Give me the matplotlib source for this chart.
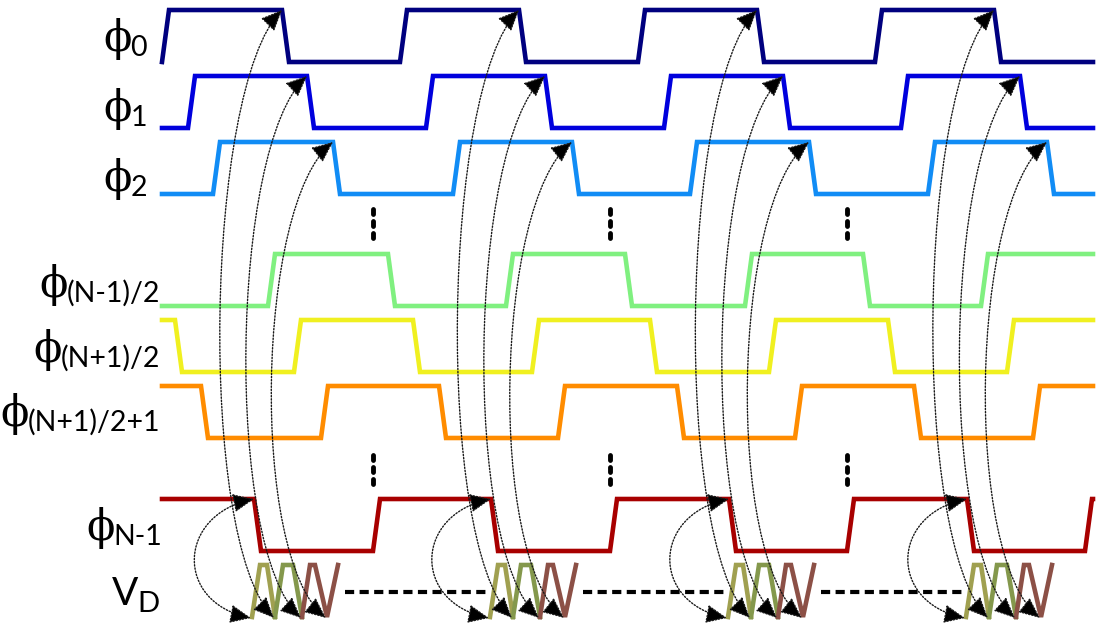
import matplotlib
matplotlib.use("Agg")
import matplotlib.pyplot as plt
from matplotlib.patches import FancyArrowPatch
from matplotlib.path import Path

# ---------------------------------------------------------------------------
# data (x in px where each edge starts)
# ---------------------------------------------------------------------------
x_start, x_end = 162, 1093
slew = 7

phase_names = ["0", "1", "2", "(N-1)/2", "(N+1)/2", "(N+1)/2+1", "N-1"]
phase_init_high = [False, False, False, False, True, True, True]
phase_edges = [
    [162, 282, 400, 519, 638, 757, 875, 994],
    [188, 307, 426, 545, 664, 783, 901, 1020],
    [213, 333, 453, 572, 690, 809, 928, 1047],
    [268, 388, 506, 625, 745, 863, 981],
    [175, 294, 413, 532, 650, 769, 888, 1007],
    [201, 321, 439, 558, 677, 795, 914, 1033],
    [254, 373, 491, 610, 729, 847, 967, 1085],
]
phase_colors = ["#00007F", "#0000DD", "#118CF5", "#80F080",
                "#F0F020", "#FF8C00", "#A80000"]

# V_D bursts: start of each burst, shape inside one burst
burst_x = [252, 490, 728, 966]
burst_dx = [0, 8, 15, 23, 31, 41, 50, 58, 63, 75, 86]
burst_lvl = [0, 1, 1, 0, 1, 1, 0, 1, 1, 0, 1]
burst_split = [0, 3, 6, 10]
burst_colors = ["#A0A050", "#84984C", "#8C5046"]

# which phase's falling edge points at which low point of the burst
arrow_src = [6, 0, 1, 2]
arrow_dst = [0, 3, 6, 9]

gap_x = [373, 610, 847]

# ---------------------------------------------------------------------------
# layout
# ---------------------------------------------------------------------------
row_high = [10, 76, 142, 254, 320, 386, 499]
amp = 52
vd_high, vd_low, vd_dash = 565, 617, 592
dots_y = [[211, 223, 235], [457, 469, 481]]
sub_base = [56, 126, 196, 302, 367, 431, 545]
label_right = [147, 147, 147, 160, 160, 160, 162]

LW = 3.3
BULGE = 77        # sideways pull of the dotted arcs (px)
PHI_FONT = ["DejaVu Serif", "DejaVu Sans"]
SUB_FONT = "Lato"


def wave(edges, init_high, y_hi, y_lo):
    lvl = init_high
    xs, ys = [x_start], [y_hi if lvl else y_lo]
    falls = []
    for e in edges:
        xs.append(e)
        ys.append(y_hi if lvl else y_lo)
        if lvl:
            falls.append(e)
        lvl = not lvl
        xs.append(min(e + slew, x_end))
        ys.append(y_hi if lvl else y_lo)
    if xs[-1] < x_end:
        xs.append(x_end)
        ys.append(y_hi if lvl else y_lo)
    return xs, ys, falls


def arc_path(p_top, p_bot):
    # cubic curve bowing to the left, like the hand drawn connectors
    length = p_bot[1] - p_top[1]
    d = 0.13 * length
    verts = [p_top,
             (p_top[0] - BULGE, p_top[1] + d),
             (p_bot[0] - BULGE, p_bot[1] - d),
             p_bot]
    return Path(verts, [Path.MOVETO, Path.CURVE4, Path.CURVE4, Path.CURVE4])


fig = plt.figure(figsize=(11.01, 6.30), dpi=100)
ax = fig.add_axes([0, 0, 1, 1])
ax.set_xlim(0, 1101)
ax.set_ylim(630, 0)
ax.axis("off")

falls_all = []
for edges, hi0, yh, col in zip(phase_edges, phase_init_high, row_high, phase_colors):
    xs, ys, falls = wave(edges, hi0, yh, yh + amp)
    ax.plot(xs, ys, color=col, lw=LW, solid_joinstyle="miter", zorder=2)
    falls_all.append(falls)

# V_D bursts and dashed line between them
for k, bx in enumerate(burst_x):
    for c, (a, b) in enumerate(zip(burst_split[:-1], burst_split[1:])):
        xs = [bx + d for d in burst_dx[a:b + 1]]
        ys = [vd_high if l else vd_low for l in burst_lvl[a:b + 1]]
        ax.plot(xs, ys, color=burst_colors[c], lw=LW, solid_joinstyle="miter", zorder=2)
    if k + 1 < len(burst_x):
        ax.plot([bx + burst_dx[-1] + 7, burst_x[k + 1]], [vd_dash, vd_dash],
                color="black", lw=3, linestyle=(0, (2.2, 1.3)), zorder=1)

# vertical ellipsis dots
for gx in gap_x:
    for grp in dots_y:
        for dy in grp:
            ax.plot([gx, gx], [dy - 2.5, dy + 2.5], color="black", lw=3.5,
                    solid_capstyle="round", zorder=2)

# dotted arrows: phase falling edge <-> V_D low point
for k, bx in enumerate(burst_x):
    for src, dst in zip(arrow_src, arrow_dst):
        p_top = (falls_all[src][k], row_high[src])
        p_bot = (bx + burst_dx[dst] - 1, vd_low + 1)
        arr = FancyArrowPatch(path=arc_path(p_top, p_bot),
                              arrowstyle="<|-|>,head_length=0.5,head_width=0.22",
                              mutation_scale=26, lw=1.0, linestyle=(0, (1, 1.3)),
                              edgecolor="#1a1a1a", facecolor="black", zorder=3)
        ax.add_patch(arr)

# labels: big phi + subscript
renderer = fig.canvas.get_renderer()
inv = ax.transData.inverted()
for name, base, right in zip(phase_names, sub_base, label_right):
    sub = ax.text(right, base, name, ha="right", va="baseline",
                  fontsize=20.5, family=SUB_FONT)
    bb = sub.get_window_extent(renderer)
    left = inv.transform((bb.x0, bb.y0))[0]
    ax.text(left + 1, base - 5, "\u03d5", ha="right", va="baseline",
            fontsize=30, family=PHI_FONT)

sub = ax.text(160, 612, "D", ha="right", va="baseline", fontsize=21, family=SUB_FONT)
bb = sub.get_window_extent(renderer)
left = inv.transform((bb.x0, bb.y0))[0]
ax.text(left, 605, "V", ha="right", va="baseline", fontsize=28, family=SUB_FONT)

fig.savefig("out.png", dpi=100)
